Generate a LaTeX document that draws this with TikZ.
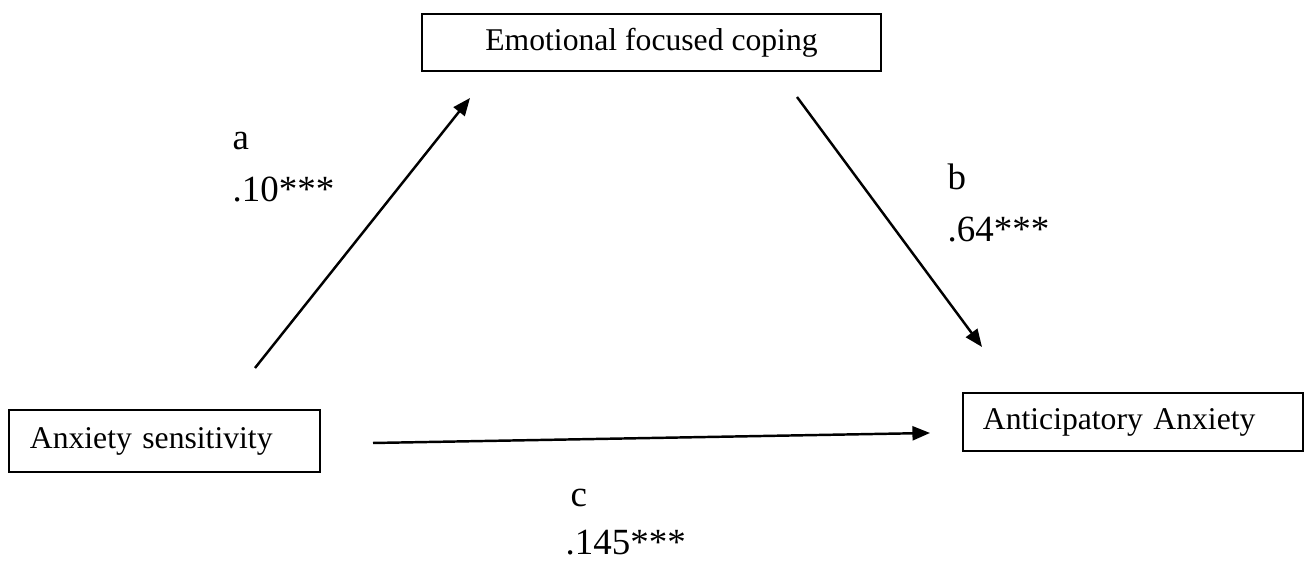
\documentclass[tikz,border=0pt]{standalone}
\usepackage{fontspec}
\setmainfont{Liberation Serif}
\usetikzlibrary{arrows.meta}
\begin{document}
\begin{tikzpicture}[x=0.01cm,y=-0.01cm,
  box/.style={draw, line width=0.6pt, inner sep=0pt, font=\fontsize{9}{11}\selectfont},
  lbl/.style={anchor=base west, inner sep=0pt, font=\fontsize{10.5}{12}\selectfont},
  arr/.style={line width=0.7pt, -{Triangle[length=5pt,width=4pt]}}]
\useasboundingbox (0,0) rectangle (1309,565);
\node[box, minimum width=4.59cm, minimum height=0.57cm] (efc) at (651.5,42.5) {Emotional focused coping};
\node[box, minimum width=3.11cm, minimum height=0.62cm, text width=2.69cm, align=left] (as) at (164.5,441) {Anxiety sensitivity};
\node[box, minimum width=3.40cm, minimum height=0.58cm, text width=3.00cm, align=left] (aa) at (1133,422) {Anticipatory Anxiety};
\coordinate (a0) at (255,368); \coordinate (a1) at (470,98);
\coordinate (b0) at (797,97);  \coordinate (b1) at (982,347);
\coordinate (c0) at (373,443); \coordinate (c1) at (930,433);
\draw[arr] (a0) -- (a1);
\draw[arr] (b0) -- (b1);
\draw[arr] (c0) -- (c1);
\node[lbl] (la) at (232,150) {a};
\node[lbl] (lav) at (232,202) {.10***};
\node[lbl] (lb) at (947,190) {b};
\node[lbl] (lbv) at (947,242) {.64***};
\node[lbl] (lc) at (570,507) {c};
\node[lbl] (lcv) at (565,555) {.145***};
\end{tikzpicture}
\end{document}
